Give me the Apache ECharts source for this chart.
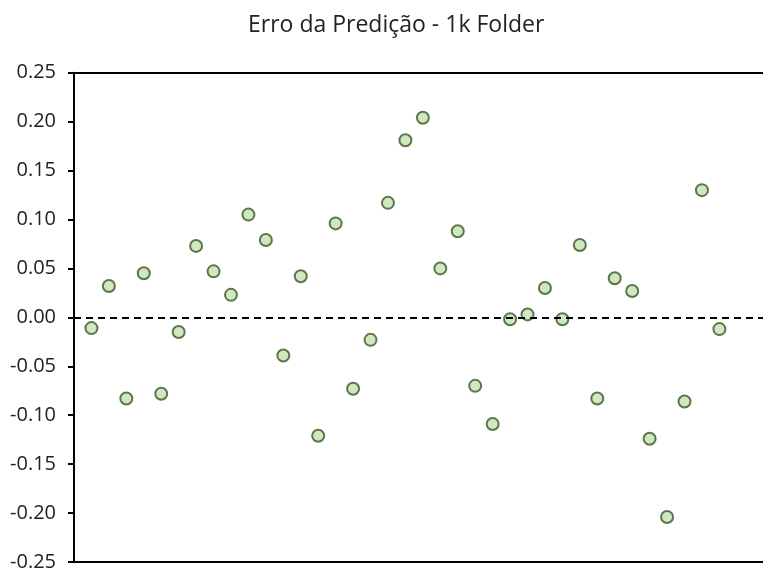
<!DOCTYPE html>
<html>
<head>
<meta charset="utf-8">
<script src="https://cdn.jsdelivr.net/npm/echarts@6/dist/echarts.min.js"></script>
<style>
  html, body { margin: 0; padding: 0; background: #fff; }
  #chart { width: 763px; height: 572px; }
</style>
</head>
<body>
<div id="chart"></div>
<script>
const title = 'Erro da Predição - 1k Folder';
const errors = [
  -0.011, 0.032, -0.083, 0.045, -0.078, -0.015, 0.073, 0.047, 0.023, 0.105,
  0.079, -0.039, 0.042, -0.121, 0.096, -0.073, -0.023, 0.117, 0.181, 0.204,
  0.050, 0.088, -0.070, -0.109, -0.002, 0.003, 0.030, -0.002, 0.074, -0.083,
  0.040, 0.027, -0.124, -0.204, -0.086, 0.130, -0.012
];
const yTicks = [-0.25, -0.2, -0.15, -0.1, -0.05, 0, 0.05, 0.1, 0.15, 0.2, 0.25];

const points = errors.map((v, i) => [i + 1, v]);

const chart = echarts.init(document.getElementById('chart'));
chart.setOption({
  animation: false,
  title: {
    text: title,
    left: 243,
    top: 9,
    textStyle: { fontFamily: 'Open Sans', fontSize: 23, fontWeight: 'normal', color: '#222' }
  },
  grid: { left: 74, top: 72.7, right: 0, height: 491.3 },
  xAxis: [{
    type: 'value',
    min: 0,
    max: 39.5,
    axisLine: { show: true, onZero: false, lineStyle: { color: '#000', width: 2 } },
    axisTick: { show: false },
    axisLabel: { show: false },
    splitLine: { show: false }
  }, {
    type: 'value',
    position: 'top',
    min: 0,
    max: 39.5,
    axisLine: { show: true, onZero: false, lineStyle: { color: '#000', width: 2 } },
    axisTick: { show: false },
    axisLabel: { show: false },
    splitLine: { show: false }
  }],
  yAxis: {
    type: 'value',
    min: yTicks[0],
    max: yTicks[yTicks.length - 1],
    interval: 0.05,
    axisLine: { show: true, lineStyle: { color: '#000', width: 2 } },
    axisTick: { show: true, length: 6, lineStyle: { color: '#000', width: 2 } },
    axisLabel: {
      margin: 18,
      fontFamily: 'Open Sans',
      fontSize: 20,
      color: '#222',
      formatter: v => v.toFixed(2)
    },
    splitLine: { show: false }
  },
  series: [{
    type: 'scatter',
    data: points,
    symbolSize: 12,
    itemStyle: { color: '#c5e0b4', borderColor: '#385723', borderWidth: 2 },
    markLine: {
      silent: true,
      symbol: 'none',
      label: { show: false },
      lineStyle: { color: '#000', type: [7, 5], width: 2 },
      data: [{ yAxis: 0 }]
    },
    z: 3
  }]
});
</script>
</body>
</html>
